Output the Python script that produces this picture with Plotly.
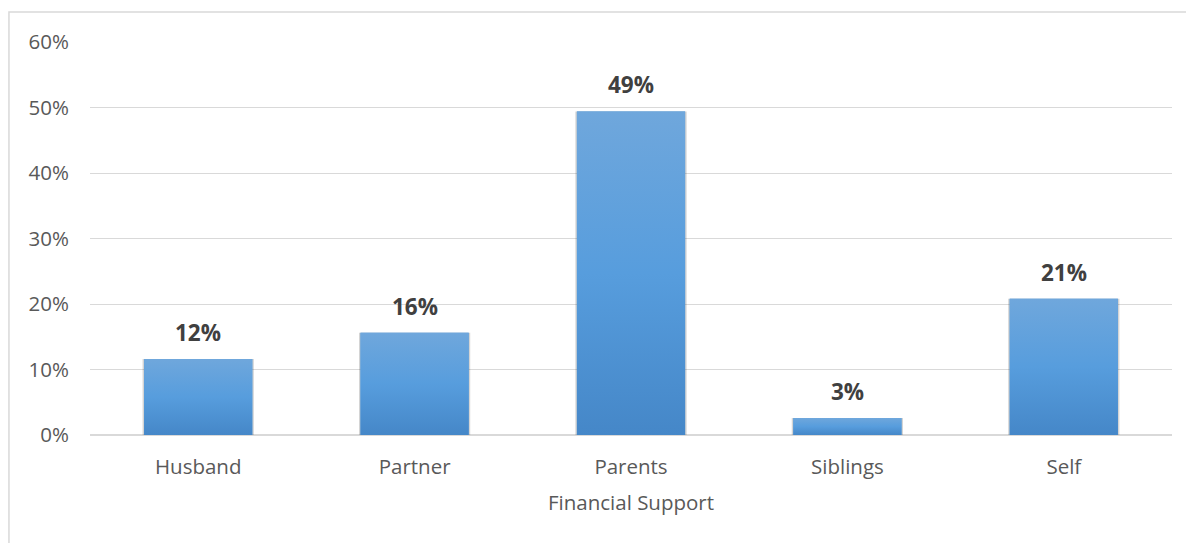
import plotly.graph_objects as go

# Share of respondents by main source of financial support
categories = ["Husband", "Partner", "Parents", "Siblings", "Self"]
shares = [0.116, 0.156, 0.494, 0.026, 0.208]
y_tick_values = [0, 0.1, 0.2, 0.3, 0.4, 0.5, 0.6]
y_tick_labels = ["0%", "10%", "20%", "30%", "40%", "50%", "60%"]

positions = list(range(len(categories)))
BAR_W = 0.5
TICK_FONT = dict(family="Open Sans", size=20.5, color="#595959")

fig = go.Figure()

# soft shadow behind each column
fig.add_trace(go.Bar(
    x=positions, y=shares, width=BAR_W + 0.014,
    marker=dict(color="rgba(60,60,60,0.22)", line=dict(width=0)),
    hoverinfo="skip", showlegend=False,
))

# base columns
fig.add_trace(go.Bar(
    x=positions, y=shares, width=BAR_W,
    marker=dict(color="#5599d8", line=dict(width=0)),
    showlegend=False,
))

# vertical gradient face on each column (lighter at the top, deeper at the base)
for p, v in zip(positions, shares):
    x0, x1 = p - BAR_W / 2, p + BAR_W / 2
    fig.add_trace(go.Scatter(
        x=[x0, x1, x1, x0, x0], y=[0, 0, v, v, 0],
        mode="lines", line=dict(width=0), fill="toself",
        fillgradient=dict(
            type="vertical",
            colorscale=[[0, "#4587c8"], [0.5, "#579ddd"], [1, "#6fa7dc"]],
        ),
        hoverinfo="skip", showlegend=False,
    ))

# value labels above the columns
for p, v in zip(positions, shares):
    fig.add_annotation(
        x=p, y=v, text=f"{v:.0%}", showarrow=False,
        yanchor="bottom", yshift=9,
        font=dict(family="Open Sans", size=22.5, color="#404040", weight="bold"),
    )

# outer chart frame
fig.add_shape(
    type="rect", xref="paper", yref="paper",
    x0=-0.0749, x1=1.2, y0=-0.6, y1=1.0763,
    line=dict(color="#d9d9d9", width=1.5), fillcolor="rgba(0,0,0,0)", layer="below",
)

fig.update_layout(
    width=1186, height=543,
    margin=dict(l=90, r=14, t=42, b=108),
    paper_bgcolor="white", plot_bgcolor="white",
    bargap=0.5, barmode="overlay",
    xaxis=dict(
        tickmode="array", tickvals=positions, ticktext=categories,
        range=[-0.5, len(categories) - 0.5],
        showgrid=False, zeroline=False, showline=False,
        ticks="", tickfont=TICK_FONT, ticklabelstandoff=17,
        title=dict(text="Financial Support", font=TICK_FONT, standoff=17),
    ),
    yaxis=dict(
        tickmode="array", tickvals=y_tick_values, ticktext=y_tick_labels,
        range=[0, 0.6],
        showgrid=True, gridcolor="#d9d9d9", gridwidth=1.3,
        zeroline=True, zerolinecolor="#d9d9d9", zerolinewidth=1.5,
        showline=False, ticks="", tickfont=TICK_FONT, ticklabelstandoff=20,
    ),
)

fig.write_html("out.html")
